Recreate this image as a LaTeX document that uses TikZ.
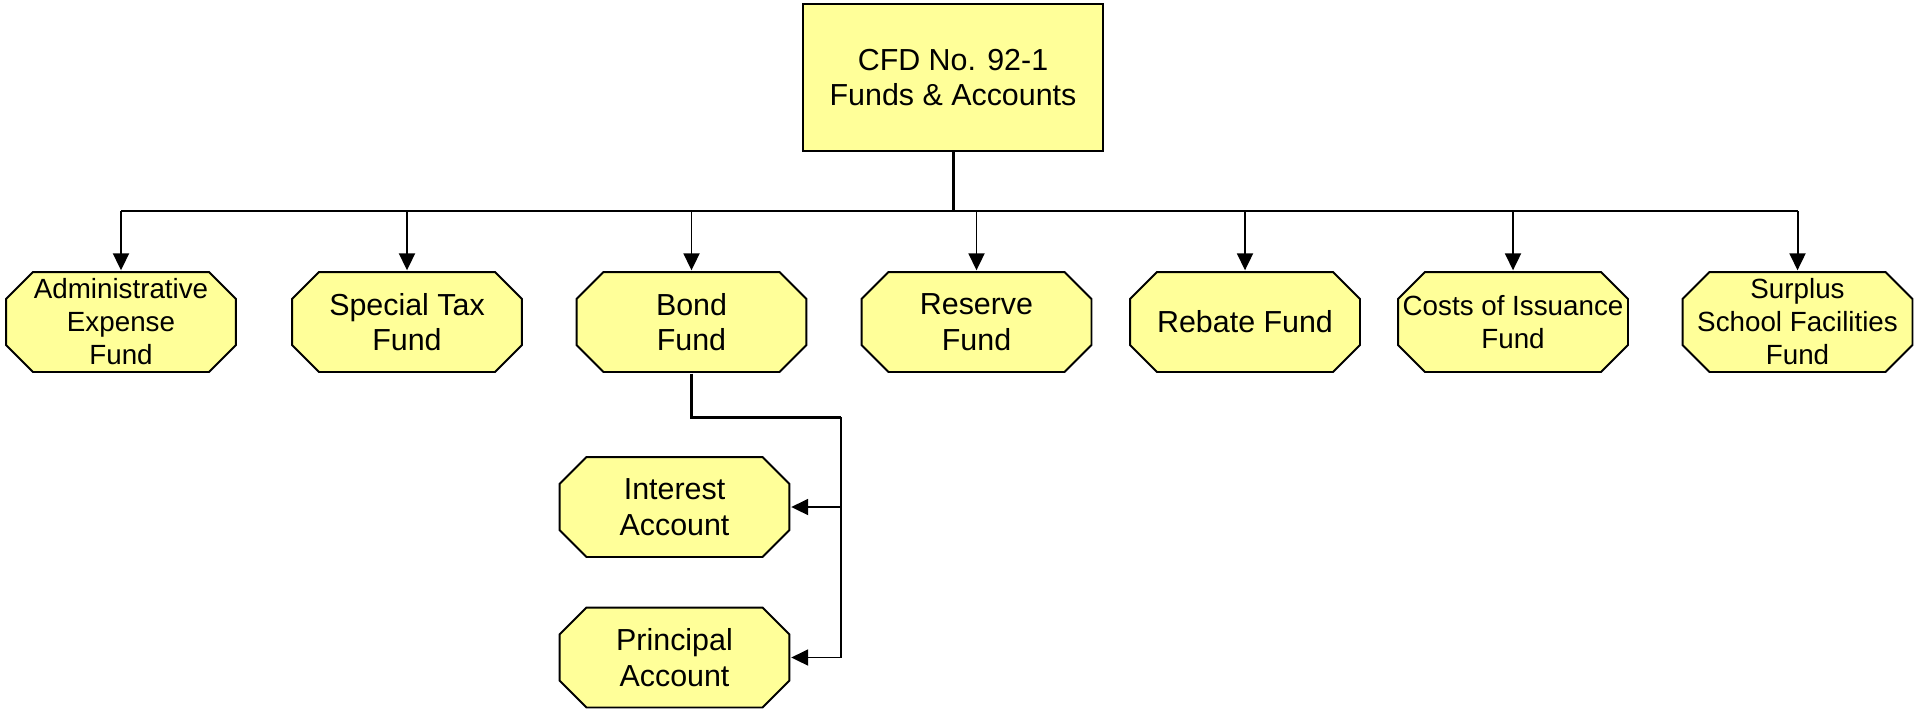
\documentclass[tikz,border=0pt]{standalone}
\usepackage{fontspec}
\setmainfont{Liberation Sans}
\usepackage{tikz}
\usetikzlibrary{
    positioning,
    arrows.meta,
    calc
}
\definecolor{fundYellow}{RGB}{255, 255, 153}

\begin{document}
\begin{tikzpicture}[>={Triangle[length=1.7mm, width=1.6mm]},
    topbox/.style={draw, line width=0.6pt, fill=fundYellow, minimum width=30mm, minimum height=14.7mm, inner sep=0pt, align=center, font=\fontsize{8.65}{10.1}\selectfont},
    fundbox/.style={minimum width=23.2mm, minimum height=10.2mm, inner sep=0pt, align=center, font=\fontsize{8.65}{10.1}\selectfont,
        path picture={
            % octagon with cut corners
            \draw[line width=0.55pt, fill=fundYellow]
                let \p1=(path picture bounding box.south west), \p2=(path picture bounding box.north east) in
                (\x1+2.8mm,\y1+0.3pt) -- (\x2-2.8mm,\y1+0.3pt) -- (\x2-0.3pt,\y1+2.8mm) -- (\x2-0.3pt,\y2-2.8mm)
                -- (\x2-2.8mm,\y2-0.3pt) -- (\x1+2.8mm,\y2-0.3pt) -- (\x1+0.3pt,\y2-2.8mm) -- (\x1+0.3pt,\y1+2.8mm) -- cycle;
        }},
    smalltext/.style={font=\fontsize{7.9}{9.4}\selectfont},
    feed/.style={line width=0.85pt},
    busline/.style={line width=0.65pt},
    branch/.style={->, line width=0.55pt}]
            \useasboundingbox (0,0) rectangle (19.15,-7.09);
            
            % Top box
            \node[topbox] (cfd) at (9.53,-0.775) {CFD No. 92-1\\Funds \& Accounts};
            \coordinate (bus) at (0,-2.11);
            
            % Funds
            \node[fundbox, smalltext] (admin) at (1.21,-3.22) {Administrative\\Expense\\Fund};
            \node[fundbox] (specialtax) at (4.07,-3.22) {Special Tax\\Fund};
            \node[fundbox] (bond) at (6.915,-3.22) {Bond\\Fund};
            \node[fundbox] (reserve) at (9.765,-3.22) {Reserve\\Fund};
            \node[fundbox] (rebate) at (12.45,-3.22) {Rebate Fund};
            \node[fundbox, smalltext] (issuance) at (15.13,-3.22) {Costs of Issuance\\Fund};
            \node[fundbox, smalltext] (surplus) at (17.975,-3.22) {Surplus\\School Facilities\\Fund};
            
            % Accounts under the bond fund
            \node[fundbox] (interest) at (6.745,-5.07) {Interest\\Account};
            \node[fundbox] (principal) at (6.745,-6.575) {Principal\\Account};
            \coordinate (acctbus) at (8.41,-4.17);
            
            % Top box to the funds
            \draw[feed] (cfd.south) -- (cfd.south |- bus);
            \draw[busline] (admin |- bus) -- (surplus |- bus);
            \foreach \f in {admin, specialtax, bond, reserve, rebate, issuance, surplus}
                \draw[branch] (\f |- bus) -- (\f.north);
            
            % Bond fund to the accounts
            \draw[feed] (bond.south) |- (acctbus);
            \draw[busline] (acctbus) -- (acctbus |- principal);
            \foreach \a in {interest, principal}
                \draw[branch] (acctbus |- \a) -- (\a.east);
        \end{tikzpicture}
\end{document}
